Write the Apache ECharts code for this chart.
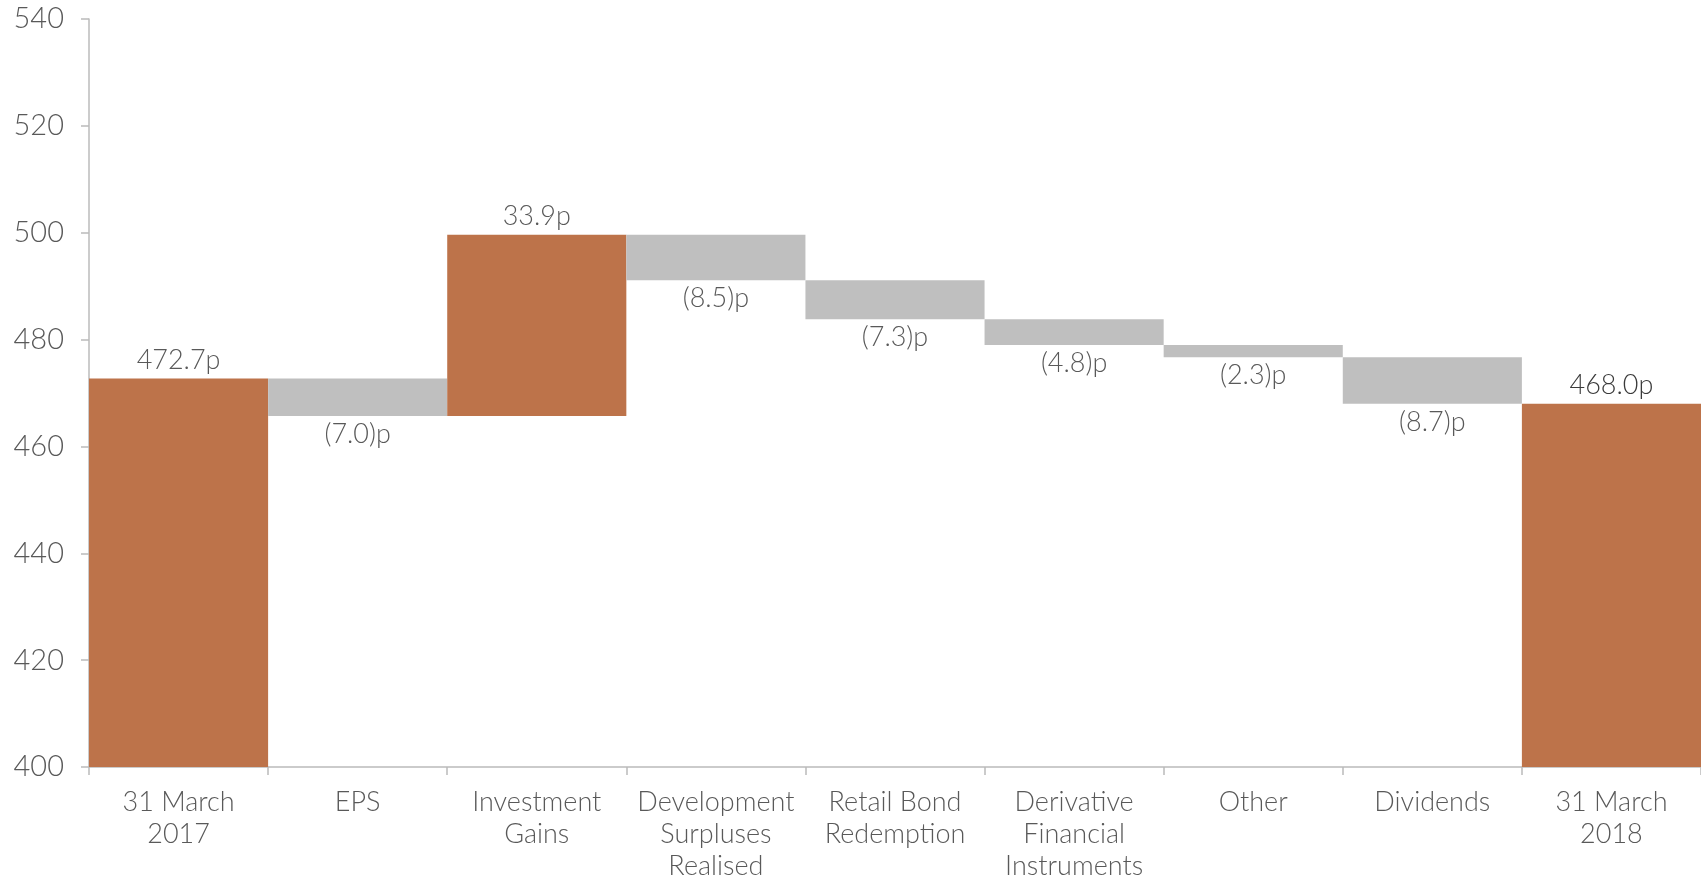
<!DOCTYPE html>
<html>
<head>
<meta charset="utf-8">
<script src="https://cdn.jsdelivr.net/npm/echarts@6/dist/echarts.min.js"></script>
<style>
  html, body { margin: 0; padding: 0; background: #fff; }
  #chart { width: 1701px; height: 882px; }
</style>
</head>
<body>
<div id="chart"></div>
<script>
// NAV per share bridge (p)
const categories = ['31 March\n2017', 'EPS', 'Investment\nGains', 'Development\nSurpluses\nRealised',
  'Retail Bond\nRedemption', 'Derivative\nFinancial\nInstruments', 'Other', 'Dividends', '31 March\n2018']
const openingValue = 472.7
const changes = [-7.0, 33.9, -8.5, -7.3, -4.8, -2.3, -8.7]
const closingValue = 468.0
const yTicks = { min: 400, max: 540, interval: 20 }

const ORANGE = '#BD734A'
const GREY = '#BFBFBF'
const TEXT = '#595959'
const FONT = 'Lato'

// build the waterfall: invisible base + visible step
const baseData = []
const stepData = []
let running = openingValue
baseData.push(0)
stepData.push({ value: openingValue, itemStyle: { color: ORANGE }, label: { position: 'top', formatter: openingValue.toFixed(1) + 'p' } })
changes.forEach(c => {
  const next = running + c
  baseData.push(Math.min(running, next))
  const up = c > 0
  stepData.push({
    value: Math.abs(c),
    itemStyle: { color: up ? ORANGE : GREY },
    label: {
      position: up ? 'top' : 'bottom',
      formatter: up ? c.toFixed(1) + 'p' : '(' + Math.abs(c).toFixed(1) + ')p'
    }
  })
  running = next
})
baseData.push(0)
stepData.push({ value: closingValue, itemStyle: { color: ORANGE }, label: { position: 'top', color: '#3a3a3a', formatter: closingValue.toFixed(1) + 'p' } })

const chart = echarts.init(document.getElementById('chart'))
chart.setOption({
  backgroundColor: '#fff',
  animation: false,
  grid: {
    left: 89,
    right: 0,
    top: 19,
    bottom: 115,
    containLabel: false
  },
  xAxis: {
    type: 'category',
    data: categories,
    axisLine: { lineStyle: { color: '#BBBBBB', width: 1.5 } },
    axisTick: { show: true, length: 8, lineStyle: { color: '#BBBBBB', width: 1.5 } },
    axisLabel: {
      color: TEXT,
      fontFamily: FONT,
      fontWeight: 300,
      fontSize: 27,
      lineHeight: 32,
      margin: 19,
      interval: 0
    }
  },
  yAxis: {
    type: 'value',
    min: yTicks.min,
    max: yTicks.max,
    interval: yTicks.interval,
    axisLine: { show: true, lineStyle: { color: '#BBBBBB', width: 1.5 } },
    axisTick: { show: true, length: 8, lineStyle: { color: '#BBBBBB', width: 1.5 } },
    splitLine: { show: false },
    axisLabel: {
      color: TEXT,
      fontFamily: FONT,
      fontWeight: 300,
      fontSize: 29,
      margin: 25
    }
  },
  series: [
    {
      name: 'base',
      type: 'bar',
      stack: 'nav',
      barCategoryGap: 0,
      itemStyle: { color: 'transparent' },
      emphasis: { disabled: true },
      data: baseData
    },
    {
      name: 'step',
      type: 'bar',
      stack: 'nav',
      barCategoryGap: 0,
      label: {
        show: true,
        color: TEXT,
        fontFamily: FONT,
        fontWeight: 300,
        fontSize: 27,
        distance: 5
      },
      data: stepData
    }
  ]
})
</script>
</body>
</html>
